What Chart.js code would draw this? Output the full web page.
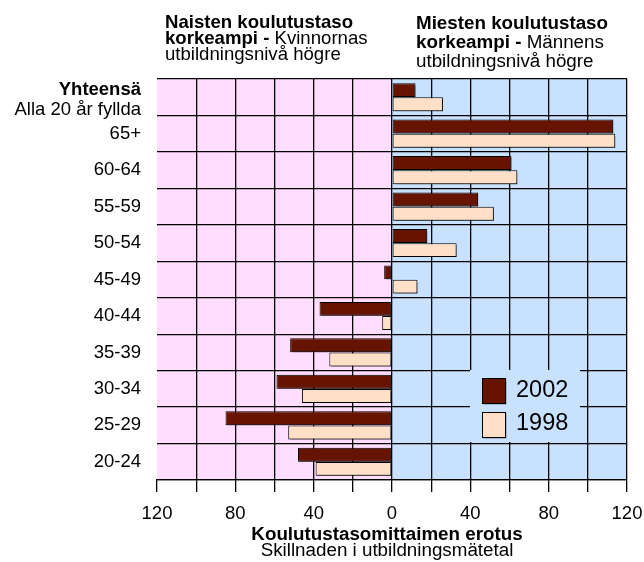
<!DOCTYPE html>
<html><head><meta charset="utf-8">
<script src="https://cdn.jsdelivr.net/npm/chart.js@4"></script>
<style>html,body{margin:0;padding:0;background:#fff}#wrap{width:644px;height:562px}</style>
</head><body><div id="wrap"><canvas id="c" width="644" height="562"></canvas></div>
<script>
const categories = ["Yhteensä","65+","60-64","55-59","50-54","45-49","40-44","35-39","30-34","25-29","20-24"];
const values2002 = [12,113,61,44,18,-4,-37,-52,-59,-85,-48];
const values1998 = [26,114,64,52,33,13,-5,-32,-46,-53,-39];
const seriesLabels = ["2002","1998"];
const seriesColors = ["#661400","#FFE0C6"];
const tickLabelStep = 40;

const FF = '"Liberation Sans", Arial, sans-serif';
const PINK = '#FFDDFF', BLUE = '#C8E1FF';

function mixedLine(ctx, x, y, parts) {
  let cx = x;
  for (const [txt, bold, size] of parts) {
    ctx.font = (bold ? 'bold ' : '') + size + 'px ' + FF;
    ctx.fillText(txt, cx, y);
    cx += ctx.measureText(txt).width;
  }
}

const deco = {
  id: 'deco',
  beforeDraw(chart) {
    const {ctx, chartArea: a, scales} = chart;
    const x0 = scales.x.getPixelForValue(0);
    ctx.save();
    ctx.fillStyle = PINK; ctx.fillRect(a.left, a.top, x0 - a.left, a.bottom - a.top);
    ctx.fillStyle = BLUE; ctx.fillRect(x0, a.top, a.right - x0, a.bottom - a.top);
    ctx.restore();
  },
  beforeDatasetsDraw(chart) {
    const ctx = chart.ctx;
    ctx.save();
    ctx.shadowColor = 'rgba(0,0,0,0.45)';
    ctx.shadowOffsetX = 2; ctx.shadowOffsetY = 2; ctx.shadowBlur = 0;
  },
  afterDatasetsDraw(chart) {
    const ctx = chart.ctx;
    ctx.restore();
    // legend
    ctx.save();
    ctx.fillStyle = BLUE;
    ctx.fillRect(470, 370, 110, 72);
    const rows = [[378, 391], [412, 424]];
    chart.data.datasets.forEach((ds, i) => {
      const [top, ty] = rows[i];
      ctx.save();
      ctx.shadowColor = 'rgba(0,0,0,0.4)'; ctx.shadowOffsetX = 1.5; ctx.shadowOffsetY = 1.5;
      ctx.fillStyle = ds.backgroundColor;
      ctx.fillRect(482, top, 23, 25);
      ctx.restore();
      ctx.strokeStyle = '#000'; ctx.lineWidth = 1;
      ctx.strokeRect(482.5, top + 0.5, 23, 25);
      ctx.fillStyle = '#000';
      ctx.font = '23.5px ' + FF;
      ctx.textBaseline = 'middle'; ctx.textAlign = 'left';
      ctx.fillText(ds.label, 516, ty);
    });
    ctx.restore();
  },
  afterDraw(chart) {
    const {ctx} = chart;
    ctx.save();
    ctx.fillStyle = '#000';
    ctx.textBaseline = 'alphabetic'; ctx.textAlign = 'left';
    // header left
    mixedLine(ctx, 165, 27.5, [['Naisten koulutustaso', true, 18.6]]);
    mixedLine(ctx, 165, 44, [['korkeampi - ', true, 18.6], ['Kvinnornas', false, 18.6]]);
    mixedLine(ctx, 165, 59.5, [['utbildningsnivå högre', false, 18.6]]);
    // header right
    mixedLine(ctx, 416, 29, [['Miesten koulutustaso', true, 18.8]]);
    mixedLine(ctx, 416, 48, [['korkeampi - ', true, 18.8], ['Männens', false, 18.8]]);
    mixedLine(ctx, 416, 67, [['utbildningsnivå högre', false, 18.8]]);
    // first category label (two lines)
    ctx.textAlign = 'right'; ctx.textBaseline = 'middle';
    ctx.font = 'bold 18.5px ' + FF;
    ctx.fillText(categories[0], 141, 90);
    ctx.font = '18.5px ' + FF;
    ctx.fillText('Alla 20 år fyllda', 141, 110);
    // x axis title
    ctx.textAlign = 'center';
    ctx.font = 'bold 18.8px ' + FF;
    ctx.fillText('Koulutustasomittaimen erotus', 387, 535);
    ctx.font = '18.8px ' + FF;
    ctx.fillText('Skillnaden i utbildningsmätetal', 387, 551);
    ctx.restore();
  }
};

new Chart(document.getElementById('c'), {
  type: 'bar',
  data: {
    labels: categories,
    datasets: [
      {label: seriesLabels[0], data: values2002, backgroundColor: seriesColors[0], borderColor: '#000', borderWidth: 1, borderSkipped: false},
      {label: seriesLabels[1], data: values1998, backgroundColor: seriesColors[1], borderColor: '#000', borderWidth: 1, borderSkipped: false}
    ]
  },
  options: {
    indexAxis: 'y',
    responsive: false,
    animation: false,
    devicePixelRatio: 1,
    layout: {padding: {top: 79, right: 17, left: 0, bottom: 0}},
    datasets: {bar: {categoryPercentage: 0.78, barPercentage: 0.98}},
    plugins: {legend: {display: false}, tooltip: {enabled: false}},
    scales: {
      x: {
        type: 'linear', min: -120, max: 120,
        afterFit(s) { s.height = 82; s.paddingLeft = 0; s.paddingRight = 0; },
        ticks: {
          stepSize: 20, autoSkip: false, maxRotation: 0, padding: 11,
          color: '#000', font: {family: FF, size: 18.5},
          callback: v => (v % tickLabelStep === 0 ? String(Math.abs(v)) : '')
        },
        grid: {
          color: c => (c.tick && c.tick.value === -120 ? 'rgba(0,0,0,0)' : '#000'),
          tickColor: '#000', lineWidth: 1.3, tickLength: 12
        },
        border: {display: true, color: '#000', width: 1.3}
      },
      y: {
        afterFit(s) { s.width = 157; },
        ticks: {
          padding: 16, color: '#000', font: {family: FF, size: 18.5},
          callback: (v, i) => (i === 0 ? '' : categories[i])
        },
        grid: {color: '#000', lineWidth: 1.3, drawTicks: false, offset: true},
        border: {display: false}
      }
    }
  },
  plugins: [deco]
});
</script></body></html>
